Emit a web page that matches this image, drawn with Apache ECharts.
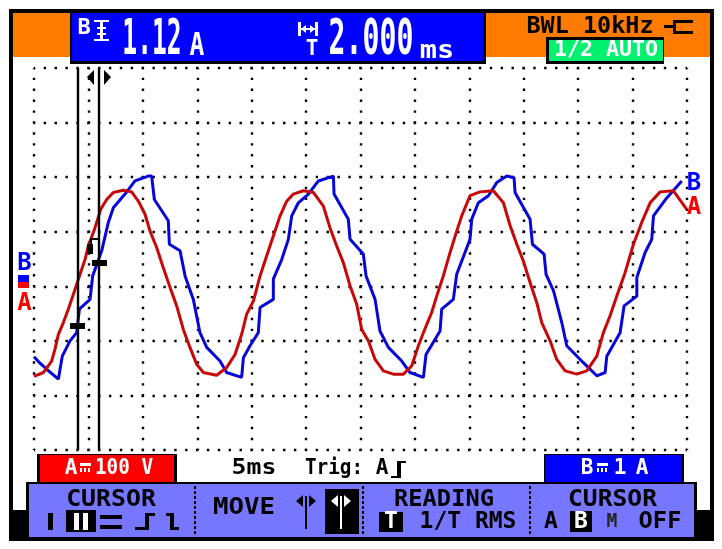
<!DOCTYPE html>
<html>
<head>
<meta charset="utf-8">
<style>html,body{margin:0;padding:0;background:#fff}#main{width:722px;height:549px}</style>
<script src="https://cdn.jsdelivr.net/npm/echarts@6/dist/echarts.min.js"></script>
</head>
<body>
<div id="main"></div>
<script>
// trace A (red), ms and volts
var timeA = [0,0.86,1.62,1.93,2.24,2.69,3.15,3.61,4.23,4.69,4.99,5.6,6.13,6.68,7.29,8.21,8.97,9.59,10.2,10.66,11.27,11.88,12.5,13.11,13.72,14.33,14.95,15.56,16.78,17.7,18.47,19.08,19.54,20.16,20.77,21.38,21.99,22.61,23.22,23.83,24.75,25.67,26.59,27.2,27.81,28.43,29.04,29.65,30.11,30.72,31.34,32.1,33.02,33.94,34.7,35.32,35.78,36.54,37,37.61,38.23,38.84,39.3,40.06,40.99,42.21,43.13,43.75,44.36,44.97,45.58,46.2,46.66,47.42,48.03,48.8,49.87,50.79,51.71,52.32,52.93,53.55,54.31,55.08,55.84,56.61,57.53,58.75,59.98];
var voltsA = [-165,-158,-137,-115,-88,-67,-42,-15,22,49,74,107,141,159,172,176,173,156,132,101,71,34,-2,-36,-79,-112,-143,-158,-163,-149,-125,-88,-51,-27,19,56,92,129,156,169,175,172,147,107,74,43,1,-33,-79,-100,-134,-155,-161,-161,-146,-109,-85,-48,-18,19,62,101,129,166,173,175,153,111,77,46,7,-30,-67,-100,-134,-155,-161,-155,-128,-85,-54,-18,25,77,117,153,173,175,141];
// trace B (blue), ms and amps
var timeB = [0,0.55,1.16,2.24,2.6,3.31,3.92,4.17,5.15,5.39,6.22,6.83,7.29,8.36,9.28,10.5,10.81,11.06,12.34,12.44,13.42,13.88,14.64,15.25,15.87,17.09,17.7,19.08,19.24,19.85,20.61,20.77,21.99,21.99,22.76,23.37,23.68,24.29,25.21,26.13,27.51,27.57,28.88,29.04,30.26,30.51,31.34,31.79,32.56,33.79,34.55,35.78,36.02,37.31,37.46,38.53,38.84,40.06,40.22,40.83,41.75,42.52,43.44,44.11,44.2,45.58,45.8,46.87,47.05,47.73,48.49,48.95,50.48,51.71,52.48,52.63,53.85,54.22,55.39,55.39,56.15,56.76,56.92,58.14,59.52];
var ampsB = [-1.29,-1.41,-1.52,-1.7,-1.28,-1,-0.85,-0.42,-0.24,0.19,0.65,1.17,1.44,1.69,1.93,2.02,2.02,1.59,1.2,0.77,0.65,0.19,-0.24,-0.85,-1.12,-1.37,-1.58,-1.67,-1.31,-1.09,-0.85,-0.39,-0.24,0.13,0.49,0.86,1.29,1.53,1.69,1.93,2.02,1.69,1.23,0.86,0.59,0.19,-0.24,-0.82,-1.12,-1.37,-1.58,-1.67,-1.25,-0.82,-0.42,-0.24,0.22,0.86,1.23,1.53,1.66,1.9,2.02,1.99,1.72,1.23,0.77,0.59,0.22,-0.08,-0.66,-1.09,-1.4,-1.64,-1.58,-1.28,-0.85,-0.36,-0.18,0.16,0.62,0.86,1.29,1.62,1.93];
var cursorTimes = [4.04, 5.97];

function zip(a, b) {
  return a.map(function (v, i) { return [v, b[i]]; });
}
function rect(x, y, w, h, fill) {
  return { type: 'rect', z: 15, shape: { x: x, y: y, width: w, height: h }, style: { fill: fill }, silent: true };
}
function txt(s, x, y, size, fill, opt) {
  opt = opt || {};
  return {
    type: 'text', x: x, y: y, scaleX: opt.sx || 1, scaleY: opt.sy || 1, z: 20, silent: true,
    style: {
      text: s, fill: fill, fontSize: size, fontWeight: 'bold',
      fontFamily: '"DejaVu Sans Mono", monospace',
      textAlign: opt.align || 'center', textVerticalAlign: 'middle'
    }
  };
}
function poly(points, fill) {
  return { type: 'polygon', shape: { points: points }, style: { fill: fill }, silent: true, z: 20 };
}
function dots(x, y1, y2) {
  var out = [];
  for (var y = y1; y < y2; y += 5) out.push(rect(x, y, 2, 3, '#000'));
  return out;
}
// left/right arrow pair on a cursor stem
function arrows(cx, cy, col) {
  return [
    poly([[cx - 3, cy - 6], [cx - 3, cy + 6], [cx - 10, cy]], col),
    poly([[cx + 3, cy - 6], [cx + 3, cy + 6], [cx + 10, cy]], col)
  ];
}
// the "solid bar over dashes" DC sign
function dcSign(x, y, col) {
  return [
    rect(x, y, 11, 3, col), rect(x, y + 5, 2, 4, col),
    rect(x + 4, y + 5, 2, 4, col), rect(x + 8, y + 5, 2, 4, col)
  ];
}

var blue = '#0000ff', orange = '#ff7b00', panel = '#7676ff', red = '#ff0000';
var gfx = [
  // frame
  rect(9, 9, 705, 4, '#000'), rect(9, 9, 4, 532, '#000'), rect(710, 9, 4, 532, '#000'),
  rect(9, 510, 18, 31, '#000'), rect(697, 510, 17, 31, '#000'),
  // header
  rect(13, 13, 57, 44, orange), rect(486, 13, 224, 44, orange),
  rect(70, 13, 416, 51, '#000'), rect(72, 13, 411, 48, blue),
  txt('B', 84, 28, 22, '#fff'),
  rect(94, 20, 15, 2, '#fff'), rect(94, 39, 15, 2, '#fff'), rect(100, 22, 3, 17, '#fff'),
  rect(97, 27, 9, 2, '#fff'), rect(97, 33, 9, 2, '#fff'),
  txt('1.12', 152, 41, 44, '#fff', { sx: 0.56, sy: 1.15 }),
  txt('A', 197, 47, 26, '#fff', { sx: 0.95, sy: 1.25 }),
  rect(298, 22, 3, 14, '#fff'), rect(315, 22, 3, 14, '#fff'), rect(301, 28, 14, 2, '#fff'),
  poly([[301, 29], [306, 25], [306, 33]], '#fff'), poly([[315, 29], [310, 25], [310, 33]], '#fff'),
  txt('T', 312, 50, 21, '#fff'),
  txt('2.000', 371, 41, 44, '#fff', { sx: 0.64, sy: 1.15 }),
  txt('ms', 437, 51, 22, '#fff', { sx: 1.3, sy: 1.15 }),
  txt('BWL 10kHz', 590, 27, 23, '#000', { sx: 1.02 }),
  rect(664, 25, 10, 3, '#000'), rect(673, 20, 11, 14, '#000'), rect(676, 23, 8, 8, orange),
  rect(684, 20, 9, 3, '#000'), rect(684, 31, 9, 3, '#000'),
  rect(546, 37, 118, 27, '#000'), rect(549, 40, 114, 21, '#00f070'),
  txt('1/2 AUTO', 606, 51, 21, '#fff', { sx: 1.03 }),
  // cursor top handle and level marks
  poly([[94, 70], [94, 85], [87, 77]], '#000'), poly([[104, 70], [104, 85], [111, 77]], '#000'),
  rect(70, 323, 15, 6, '#000'), rect(92, 260, 15, 6, '#000'),
  rect(87, 244, 6, 10, '#000'), rect(90, 238, 8, 2, '#000'), rect(90, 240, 2, 12, '#000'),
  // trace labels
  txt('B', 24.5, 264, 24, blue), rect(18, 275, 11, 7, blue), rect(18, 282, 11, 6, red),
  txt('A', 24.5, 304, 24, red),
  txt('B', 694, 183.5, 24, blue), txt('A', 694, 208, 24, red),
  // status row
  rect(37, 454, 140, 30, '#000'), rect(40, 455, 134, 27, red),
  txt('A', 71, 469, 21, '#fff'), txt('100 V', 124, 469, 21, '#fff', { sx: 0.92 }),
  txt('5ms', 254, 469, 21, '#000', { sx: 1.18 }), txt('Trig:', 334, 469, 21, '#000', { sx: 0.92 }),
  txt('A', 382, 469, 21, '#000'),
  rect(397, 461, 4, 17, '#000'), rect(401, 461, 5, 2, '#000'), rect(391, 476, 6, 2, '#000'),
  rect(544, 454, 140, 30, '#000'), rect(545, 455, 136, 27, blue),
  txt('B', 587, 469, 21, '#fff'), txt('1', 620, 469, 21, '#fff'), txt('A', 642, 469, 21, '#fff'),
  // softkey bar
  rect(26, 482, 671, 59, '#000'), rect(29, 484, 665, 53, panel),
  txt('CURSOR', 111, 500, 23, '#000', { sx: 1.08 }),
  rect(48, 513, 5, 17, '#000'),
  rect(66, 510, 30, 22, '#000'), rect(74, 513, 5, 17, '#fff'), rect(83, 513, 5, 17, '#fff'),
  rect(100, 515, 22, 4, '#000'), rect(100, 525, 22, 4, '#000'),
  rect(145, 513, 4, 17, '#000'), rect(149, 513, 6, 3, '#000'), rect(135, 527, 10, 3, '#000'),
  rect(170, 513, 4, 17, '#000'), rect(166, 513, 4, 3, '#000'), rect(174, 527, 5, 3, '#000'),
  txt('MOVE', 244, 508, 23, '#000', { sx: 1.12 }),
  rect(305, 496, 2, 33, '#000'),
  rect(325, 489, 34, 45, '#000'), rect(340, 496, 2, 33, '#fff'),
  txt('READING', 444, 500, 23, '#000', { sx: 1.03 }),
  rect(379, 512, 24, 20, '#000'),
  txt('T', 391, 522, 23, '#fff'),
  txt('1/T RMS', 468, 522, 23, '#000', { sx: 1.0 }),
  txt('CURSOR', 612.5, 500, 23, '#000', { sx: 1.07 }),
  txt('A', 551, 522, 23, '#000'),
  rect(570, 511, 22, 21, '#000'),
  txt('B', 581, 522, 23, '#fff'),
  txt('OFF', 660, 522, 23, '#000', { sx: 1.03 }),
  txt('M', 612, 522, 20, '#222', { sx: 0.9 })
];
gfx = gfx.concat(arrows(306, 501, '#000'), arrows(341, 501, '#fff'));
gfx = gfx.concat(dots(194, 486, 536), dots(362, 486, 536), dots(529, 486, 536));
gfx = gfx.concat(dcSign(80, 463, '#fff'), dcSign(597, 463, '#fff'));

var chart = echarts.init(document.getElementById('main'));
chart.setOption({
  animation: false,
  backgroundColor: '#fff',
  grid: { left: 34, right: 35, top: 68, bottom: 99 },
  xAxis: {
    type: 'value', min: 0, max: 60, interval: 5,
    axisLine: { show: false }, axisTick: { show: false }, axisLabel: { show: false },
    splitLine: { show: true, lineStyle: { color: '#000', width: 2.4, type: [2.4, 8.51], dashOffset: 1.2 } }
  },
  yAxis: [
    {
      type: 'value', min: -300, max: 400, interval: 100,
      axisLine: { show: false }, axisTick: { show: false }, axisLabel: { show: false },
      splitLine: { show: true, lineStyle: { color: '#000', width: 2.4, type: [2.4, 8.48], dashOffset: 1.2 } }
    },
    {
      type: 'value', min: -3, max: 4, interval: 1,
      axisLine: { show: false }, axisTick: { show: false }, axisLabel: { show: false },
      splitLine: { show: false }
    }
  ],
  series: [
    {
      name: 'B', type: 'line', yAxisIndex: 1, data: zip(timeB, ampsB),
      showSymbol: false, silent: true, z: 3,
      lineStyle: { color: '#0606d6', width: 3 }
    },
    {
      name: 'A', type: 'line', yAxisIndex: 0, data: zip(timeA, voltsA),
      showSymbol: false, silent: true, z: 4,
      lineStyle: { color: '#c80808', width: 3 },
      markLine: {
        silent: true, symbol: 'none', label: { show: false },
        lineStyle: { color: '#000', width: 2.4, type: 'solid' },
        data: cursorTimes.map(function (t) { return { xAxis: t }; })
      }
    }
  ],
  graphic: gfx
});
</script>
</body>
</html>
